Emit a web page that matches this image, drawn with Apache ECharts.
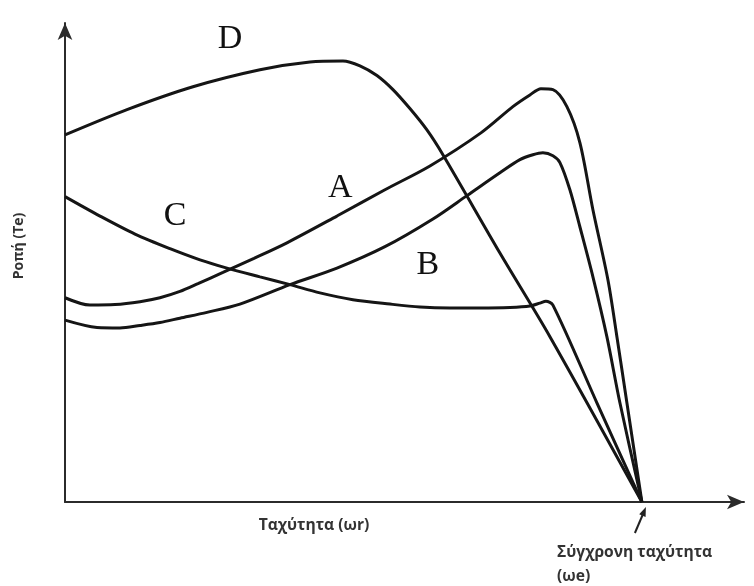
<!DOCTYPE html>
<html>
<head>
<meta charset="utf-8">
<script src="https://cdn.jsdelivr.net/npm/echarts@6/dist/echarts.min.js"></script>
<style>
  html, body { margin: 0; padding: 0; background: #ffffff; }
  #chart { width: 754px; height: 586px; }
</style>
</head>
<body>
<div id="chart"></div>
<script>
// Torque–speed curves of induction motor design classes.
// x: rotor speed in % of synchronous speed, y: torque in relative units.
const classA = [[0,42.0],[4.33,40.5],[8.67,40.6],[13.0,41.2],[16.46,42.0],[19.93,43.3],[23.05,44.9],[27.38,47.2],[32.76,50.1],[38.47,53.3],[47.14,58.8],[55.46,64.2],[63.26,69.1],[72.10,75.9],[77.64,81.3],[80.59,83.7],[82.50,85.0],[84.58,84.8],[87.0,81.3],[89.25,73.9],[91.51,60.1],[94.11,45.7],[95.67,34.0],[97.40,20.4],[100,0]];
const classB = [[0,37.4],[5.55,35.9],[9.53,35.8],[13.0,36.3],[16.46,36.9],[19.93,37.8],[24.61,39.0],[30.33,40.7],[39.0,44.7],[47.14,48.1],[55.46,52.5],[63.78,58.2],[69.67,63.0],[75.39,67.7],[78.86,70.4],[81.11,71.4],[82.84,71.8],[84.58,71.2],[85.79,69.8],[87.52,64.2],[89.25,56.6],[91.51,46.3],[93.93,34.0],[96.19,20.4],[100,0]];
const classC = [[0,62.8],[6.07,58.8],[12.13,55.1],[18.20,52.1],[23.40,49.8],[28.08,48.1],[33.80,46.3],[39.0,44.7],[44.19,43.0],[49.91,41.6],[56.33,40.7],[61.53,40.1],[66.72,39.9],[71.92,39.9],[77.12,40.0],[80.59,40.3],[82.32,40.9],[83.36,41.3],[84.58,40.5],[92.20,20.4],[100,0]];
const classD = [[0,75.5],[10.75,80.7],[22.18,85.4],[33.80,88.9],[42.46,90.5],[48.18,90.7],[51.13,89.7],[54.07,87.7],[56.85,84.8],[59.79,80.9],[62.74,76.5],[65.51,71.4],[75.39,51.2],[84.06,34.0],[100,0]];

const curveNames = ['A', 'B', 'C', 'D'];
// where each class letter sits, in data units
const letterPos = { A: [47.7, 64.6], B: [62.9, 48.8], C: [19.1, 58.8], D: [28.6, 95.1] };

const yAxisTitle = 'Ροπή (Te)';
const xAxisTitle = 'Ταχύτητα (ωr)';
const syncTitle = ['Σύγχρονη ταχύτητα', '(ωe)'];

const curveColor = '#151515';
const axisColor = '#2b2b2b';
const labelFont = '"Open Sans", "DejaVu Sans", sans-serif';

function curveSeries(name, data) {
  return {
    name: name,
    type: 'line',
    data: data,
    smooth: 0.3,
    showSymbol: false,
    symbol: 'none',
    silent: true,
    lineStyle: { color: curveColor, width: 3 },
    z: 3
  };
}

const axisCommon = {
  type: 'value',
  axisLine: {
    show: true,
    symbol: ['none', 'arrow'],
    symbolSize: [11, 17],
    lineStyle: { color: axisColor, width: 2 }
  },
  axisTick: { show: false },
  axisLabel: { show: false },
  splitLine: { show: false }
};

const chart = echarts.init(document.getElementById('chart'), null, { renderer: 'canvas' });

chart.setOption({
  animation: false,
  backgroundColor: '#ffffff',
  grid: { left: 65, right: 10, top: 23, bottom: 84, containLabel: false },
  xAxis: Object.assign({}, axisCommon, { min: 0, max: 117.7 }),
  yAxis: Object.assign({}, axisCommon, { min: 0, max: 98.5 }),
  series: [
    curveSeries('A', classA),
    curveSeries('B', classB),
    curveSeries('C', classC),
    curveSeries('D', classD)
  ]
});

// Text annotations placed after the axes are laid out
const graphics = [];
curveNames.forEach(function (n) {
  const p = chart.convertToPixel({ gridIndex: 0 }, letterPos[n]);
  graphics.push({
    type: 'text', x: p[0], y: p[1], silent: true,
    style: {
      text: n, fill: '#111111',
      font: '34px "Liberation Serif", "Times New Roman", serif',
      textAlign: 'center', textVerticalAlign: 'middle'
    }
  });
});

graphics.push({
  type: 'text', x: 19, y: 246, rotation: Math.PI / 2, silent: true,
  style: {
    text: yAxisTitle, fill: '#333333',
    font: 'bold 14px ' + labelFont,
    textAlign: 'center', textVerticalAlign: 'middle'
  }
});
graphics.push({
  type: 'text', x: 314, y: 526, silent: true,
  style: {
    text: xAxisTitle, fill: '#333333',
    font: 'bold 15.6px ' + labelFont,
    textAlign: 'center', textVerticalAlign: 'middle'
  }
});

// Pointer to the synchronous speed on the x axis
const syncPx = chart.convertToPixel({ gridIndex: 0 }, [100, 0]);
const tip = [syncPx[0] + 4, syncPx[1] + 5];
graphics.push({
  type: 'line', silent: true,
  shape: { x1: tip[0] - 11, y1: tip[1] + 26, x2: tip[0] - 3.3, y2: tip[1] + 8 },
  style: { stroke: '#222222', lineWidth: 2 }
});
graphics.push({
  type: 'polygon', silent: true,
  shape: { points: [[tip[0], tip[1]], [tip[0] - 0.3, tip[1] + 10], [tip[0] - 6.7, tip[1] + 7.3]] },
  style: { fill: '#222222' }
});
graphics.push({
  type: 'text', x: 557, y: 553, silent: true,
  style: {
    text: syncTitle[0], fill: '#333333',
    font: 'bold 15.6px ' + labelFont,
    textAlign: 'left', textVerticalAlign: 'middle'
  }
});
graphics.push({
  type: 'text', x: 557, y: 577, silent: true,
  style: {
    text: syncTitle[1], fill: '#333333',
    font: 'bold 15.6px ' + labelFont,
    textAlign: 'left', textVerticalAlign: 'middle'
  }
});

chart.setOption({ graphic: graphics });
</script>
</body>
</html>
